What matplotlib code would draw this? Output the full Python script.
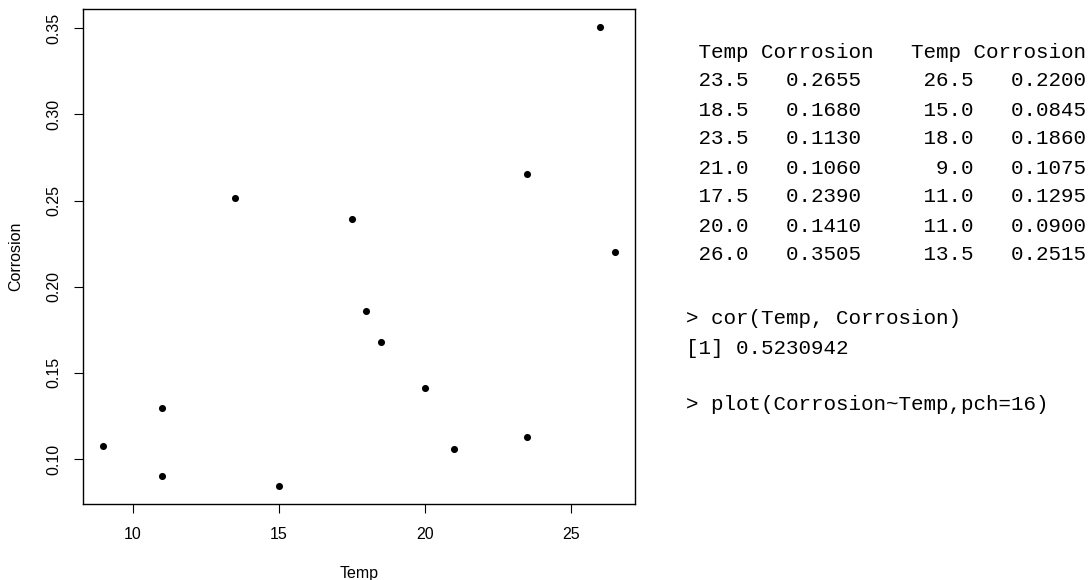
import numpy as np
import matplotlib.pyplot as plt

plt.rcParams.update({
    "font.family": "sans-serif",
    "font.sans-serif": ["Liberation Sans"],
})

# corrosion data, as printed in the right-hand table
temp = [23.5, 18.5, 23.5, 21.0, 17.5, 20.0, 26.0,
        26.5, 15.0, 18.0, 9.0, 11.0, 11.0, 13.5]
corrosion = [0.2655, 0.1680, 0.1130, 0.1060, 0.2390, 0.1410, 0.3505,
             0.2200, 0.0845, 0.1860, 0.1075, 0.1295, 0.0900, 0.2515]
xticks = [10, 15, 20, 25]
yticks = [0.10, 0.15, 0.20, 0.25, 0.30, 0.35]

W, H = 1089, 580
fig = plt.figure(figsize=(W / 100, H / 100), dpi=100)
ax = fig.add_axes([83 / W, 1 - 504 / H, (635 - 83) / W, (504 - 9) / H])

ax.scatter(temp, corrosion, s=26, color='black', linewidths=0, zorder=3)

# R style 4% padding of the data range
xr = max(temp) - min(temp)
yr = max(corrosion) - min(corrosion)
ax.set_xlim(min(temp) - 0.04 * xr, max(temp) + 0.04 * xr)
ax.set_ylim(min(corrosion) - 0.04 * yr, max(corrosion) + 0.04 * yr)

ax.set_xticks(xticks)
ax.set_xticklabels([str(v) for v in xticks])
ax.set_yticks(yticks)
ax.set_yticklabels(['%.2f' % v for v in yticks], rotation=90, va='center')
ax.tick_params(direction='out', length=6.5, width=0.8, labelsize=11.5, colors='black')
ax.tick_params(axis='x', pad=10)
ax.tick_params(axis='y', pad=9)
for s in ax.spines.values():
    s.set_linewidth(1.0)

ax.set_xlabel('Temp', fontsize=11.5, labelpad=17)
ax.set_ylabel('Corrosion', fontsize=11.5, labelpad=17)

# console text on the right
mono = dict(family='Liberation Mono', fontsize=15, va='center', ha='left')
lines = [(' Temp Corrosion   Temp Corrosion', 52)]
n = len(temp) // 2
for i in range(n):
    row = ' %4.1f   %.4f     %4.1f   %.4f' % (temp[i], corrosion[i], temp[i + n], corrosion[i + n])
    lines.append((row, 81 + 29 * i))
lines.append(('> cor(Temp, Corrosion)', 319))
lines.append(('[1] %.7f' % np.corrcoef(temp, corrosion)[0, 1], 348))
lines.append(('> plot(Corrosion~Temp,pch=16)', 405))
for txt, y in lines:
    fig.text(686 / W, 1 - y / H, txt, **mono)

plt.savefig('out.png', dpi=100)
